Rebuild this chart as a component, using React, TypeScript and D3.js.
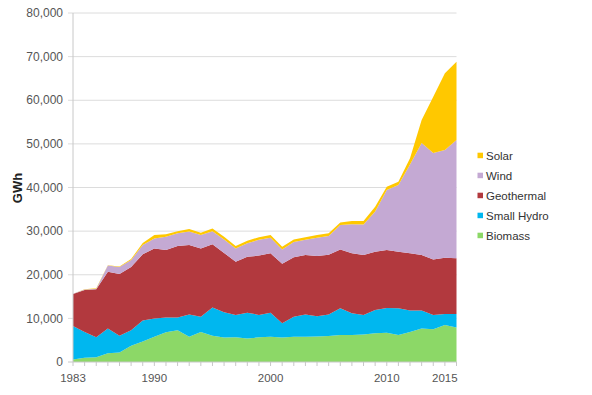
import React from "react";
import * as d3 from "d3";

const years = [1983,1984,1985,1986,1987,1988,1989,1990,1991,1992,1993,1994,1995,1996,1997,1998,1999,2000,2001,2002,2003,2004,2005,2006,2007,2008,2009,2010,2011,2012,2013,2014,2015,2016];
const biomass = [600,1000,1100,2000,2200,3700,4700,5800,6800,7300,5800,6900,6000,5600,5650,5400,5650,5800,5600,5800,5800,5850,5950,6200,6200,6300,6600,6700,6200,6900,7700,7500,8500,7900];
const smallHydro = [7650,5900,4550,5700,3800,3600,4800,4200,3400,2900,5100,3500,6500,5800,5150,5900,5150,5500,3300,4600,5100,4650,4950,6100,5000,4500,5300,5700,6100,4900,4100,3300,2500,3100];
const geothermal = [7350,9600,11000,13000,14200,14500,15200,16000,15500,16400,15900,15600,14500,13600,12200,12800,13600,13600,13600,13600,13600,13800,13700,13500,13700,13700,13400,13300,13000,13100,12700,12700,12900,12800];
const wind = [50,100,150,1400,1600,1600,2100,2300,3000,2900,3100,3100,3000,3100,3000,3100,3600,3600,3300,3500,3500,4200,4300,5600,6700,7000,9200,13700,15300,20400,25700,24400,24700,27100];
const solar = [0,50,100,100,100,200,500,800,600,500,600,500,600,600,600,600,600,600,600,600,600,600,600,600,700,800,1100,800,700,1400,5300,12900,17600,17900];

const seriesNames = ["Biomass", "Small Hydro", "Geothermal", "Wind", "Solar"];
const seriesColors = ["#8CD867", "#00B7EF", "#B2393E", "#C4A9D3", "#FFC800"];
const yTicks = [0,10000,20000,30000,40000,50000,60000,70000,80000];
const xTickLabels = [1983, 1990, 2000, 2010, 2015];
const legendOrder = ["Solar", "Wind", "Geothermal", "Small Hydro", "Biomass"];

const FONT = "'Liberation Sans', Arial, Helvetica, sans-serif";

export default function App() {
  const left = 73, right = 456.5, top = 13, bottom = 362;
  const x = d3.scaleLinear().domain([1983, 2016]).range([left, right]);
  const y = d3.scaleLinear().domain([0, 80000]).range([bottom, top]);

  const allSeries = [biomass, smallHydro, geothermal, wind, solar];
  const rows = years.map((yr, i) => {
    const r: any = { year: yr };
    seriesNames.forEach((n, k) => (r[n] = allSeries[k][i]));
    return r;
  });
  const stacked = d3.stack<any>().keys(seriesNames)(rows);
  const area = d3
    .area<any>()
    .x((d) => x(d.data.year))
    .y0((d) => y(d[0]))
    .y1((d) => y(d[1]))
    .curve(d3.curveLinear);

  const fmt = d3.format(",");

  return (
    <svg width={592} height={395} style={{ position: "absolute", left: 0, top: 0, background: "#fff" }} fontFamily={FONT}>
      {yTicks.filter((t) => t > 0).map((t) => (
        <line key={"g" + t} x1={left - 5} x2={right} y1={y(t)} y2={y(t)} stroke="#dcdcdc" strokeWidth={1} />
      ))}
      {stacked.map((s, k) => (
        <path key={s.key} d={area(s) || ""} fill={seriesColors[k]} />
      ))}
      <line x1={left} x2={left} y1={top} y2={bottom} stroke="#c8c8c8" strokeWidth={1} />
      <line x1={left - 5} x2={right} y1={bottom} y2={bottom} stroke="#c8c8c8" strokeWidth={1} />
      {years.map((yr) => (
        <line key={"t" + yr} x1={x(yr)} x2={x(yr)} y1={bottom} y2={bottom + 4} stroke="#c8c8c8" strokeWidth={1} />
      ))}
      {yTicks.map((t) => (
        <text key={"yl" + t} x={63} y={y(t)} dy="0.35em" textAnchor="end" fontSize={12} fill="#555">
          {fmt(t)}
        </text>
      ))}
      {xTickLabels.map((t) => (
        <text key={"xl" + t} x={x(t)} y={382} textAnchor="middle" fontSize={11.5} fill="#555">
          {t}
        </text>
      ))}
      <text transform="translate(22,188) rotate(-90)" textAnchor="middle" fontSize={13} fontWeight="bold" fill="#222">
        GWh
      </text>
      {legendOrder.map((n, i) => {
        const k = seriesNames.indexOf(n);
        const cy = 155.7 + i * 20;
        return (
          <g key={"lg" + n}>
            <rect x={477.5} y={cy - 3} width={5.5} height={5.5} fill={seriesColors[k]} />
            <text x={486} y={cy} dy="0.35em" fontSize={11.5} fill="#333">
              {n}
            </text>
          </g>
        );
      })}
    </svg>
  );
}
